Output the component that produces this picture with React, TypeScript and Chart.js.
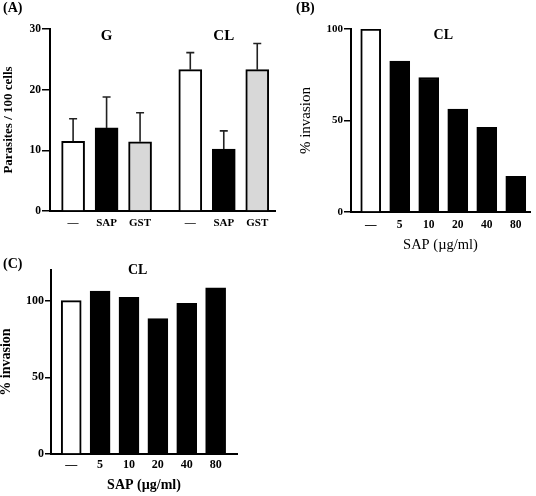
import React, { useEffect, useRef } from 'react';
import { Chart, registerables } from 'chart.js';

Chart.register(...registerables);

const FONT = "'Liberation Serif', 'Times New Roman', Times, serif";

// ---------- Panel A data ----------
const aGroups = ['G', 'CL'];
const aTreatments = ['—', 'SAP', 'GST'];
const aControl = [11.5, 23.3];
const aControlErr = [3.7, 2.8];
const aSap = [13.7, 10.2];
const aSapErr = [5.1, 3.0];
const aGst = [11.4, 23.3];
const aGstErr = [4.8, 4.3];
const aTicks = [0, 10, 20, 30];

// ---------- Panel B data ----------
const bCategories = ['—', '5', '10', '20', '40', '80'];
const bValues = [100, 82.5, 73.5, 56.3, 46.2, 19.5];

// ---------- Panel C data ----------
const cCategories = ['—', '5', '10', '20', '40', '80'];
const cValues = [100, 106.3, 102.2, 88.3, 98.3, 108.3];

const WHITE = '#ffffff';
const BLACK = '#000000';
const GRAY = '#d8d8d8';

const errorBarPlugin = {
  id: 'errorBars',
  afterDatasetsDraw(chart: any, _args: any, opts: any) {
    if (!opts || !opts.errors) return;
    const { ctx } = chart;
    const yScale = chart.scales.y;
    const meta = chart.getDatasetMeta(0);
    const ds = chart.data.datasets[0];
    ctx.save();
    ctx.strokeStyle = '#222';
    ctx.lineWidth = 1.6;
    meta.data.forEach((bar: any, i: number) => {
      const err = opts.errors[i];
      if (!err) return;
      const v = ds.data[i].y;
      const top = yScale.getPixelForValue(v + err);
      ctx.beginPath();
      ctx.moveTo(bar.x, bar.y);
      ctx.lineTo(bar.x, top);
      ctx.moveTo(bar.x - 4, top);
      ctx.lineTo(bar.x + 4, top);
      ctx.stroke();
    });
    ctx.restore();
  },
};

const groupLabelPlugin = {
  id: 'groupLabels',
  afterDraw(chart: any, _args: any, opts: any) {
    if (!opts || !opts.items) return;
    const { ctx, chartArea } = chart;
    const xs = chart.scales.x;
    ctx.save();
    ctx.fillStyle = '#000';
    ctx.font = `bold ${opts.size}px ${FONT}`;
    ctx.textAlign = 'center';
    ctx.textBaseline = 'middle';
    opts.items.forEach((it: any) => {
      ctx.fillText(it.text, xs.getPixelForValue(it.value), chartArea.top + opts.offset);
    });
    ctx.restore();
  },
};

type PanelCfg = {
  points: { x: number; y: number }[];
  colors: string[];
  errors?: number[];
  labels: string[];
  xMin: number;
  xMax: number;
  yMax: number;
  yStep: number;
  barThickness: number;
  padding: { left: number; top: number; right: number; bottom: number };
  yWidth: number;
  xHeight: number;
  xTickPadding: number;
  yTitle: string;
  yTitleBold: boolean;
  yTitleSize: number;
  yTickSize: number;
  xTickSize: number;
  xTitle?: string;
  xTitleBold?: boolean;
  xTitleSize?: number;
  groupItems: { text: string; value: number }[];
  groupSize: number;
  groupOffset: number;
  tickLength: number;
};

function makeChart(canvas: HTMLCanvasElement, p: PanelCfg) {
  const positions = p.points.map((pt) => pt.x);
  return new Chart(canvas, {
    type: 'bar',
    data: {
      datasets: [
        {
          data: p.points as any,
          backgroundColor: p.colors,
          borderColor: BLACK,
          borderWidth: 2,
          barThickness: p.barThickness,
        },
      ],
    },
    plugins: [errorBarPlugin, groupLabelPlugin],
    options: {
      animation: false,
      responsive: false,
      devicePixelRatio: 1,
      layout: { padding: p.padding },
      plugins: {
        legend: { display: false },
        tooltip: { enabled: false },
        errorBars: { errors: p.errors },
        groupLabels: { items: p.groupItems, size: p.groupSize, offset: p.groupOffset },
      } as any,
      scales: {
        x: {
          type: 'linear',
          min: p.xMin,
          max: p.xMax,
          offset: false,
          grid: { display: false, drawTicks: false },
          border: { display: true, color: BLACK, width: 2 },
          afterBuildTicks: (s: any) => {
            s.ticks = positions.map((v) => ({ value: v }));
          },
          afterFit: (s: any) => {
            s.height = p.xHeight;
          },
          ticks: {
            autoSkip: false,
            maxRotation: 0,
            padding: p.xTickPadding,
            color: BLACK,
            font: { family: FONT, size: p.xTickSize, weight: 'bold' },
            callback: (_v: any, i: number) => p.labels[i],
          },
          title: p.xTitle
            ? {
                display: true,
                text: p.xTitle,
                color: BLACK,
                padding: { top: 0, bottom: 2 },
                font: { family: FONT, size: p.xTitleSize, weight: p.xTitleBold ? 'bold' : 'normal' },
              }
            : { display: false },
        } as any,
        y: {
          min: 0,
          max: p.yMax,
          grid: {
            display: true,
            drawOnChartArea: false,
            drawTicks: true,
            tickLength: p.tickLength,
            color: BLACK,
            lineWidth: 1.5,
          },
          border: { display: true, color: BLACK, width: 2 },
          afterFit: (s: any) => {
            s.width = p.yWidth;
          },
          ticks: {
            stepSize: p.yStep,
            includeBounds: false,
            padding: 1,
            color: BLACK,
            font: { family: FONT, size: p.yTickSize, weight: 'bold' },
          },
          title: {
            display: true,
            text: p.yTitle,
            color: BLACK,
            padding: { top: 1, bottom: 0 },
            font: { family: FONT, size: p.yTitleSize, weight: p.yTitleBold ? 'bold' : 'normal' },
          },
        } as any,
      },
    },
  });
}

function buildA(): PanelCfg {
  const valueSets = [aControl, aSap, aGst];
  const errSets = [aControlErr, aSapErr, aGstErr];
  const fills = [WHITE, BLACK, GRAY];
  const points: { x: number; y: number }[] = [];
  const colors: string[] = [];
  const errors: number[] = [];
  const labels: string[] = [];
  const stride = aTreatments.length + 0.5;
  aGroups.forEach((_g, gi) => {
    aTreatments.forEach((t, ti) => {
      points.push({ x: gi * stride + ti, y: valueSets[ti][gi] });
      colors.push(fills[ti]);
      errors.push(errSets[ti][gi]);
      labels.push(t);
    });
  });
  return {
    points,
    colors,
    errors,
    labels,
    xMin: -0.69,
    xMax: 6.03,
    yMax: aTicks[aTicks.length - 1],
    yStep: aTicks[1] - aTicks[0],
    barThickness: 23,
    padding: { left: 0, top: 29, right: 10, bottom: 0 },
    yWidth: 50,
    xHeight: 29,
    xTickPadding: 6,
    yTitle: 'Parasites / 100 cells',
    yTitleBold: true,
    yTitleSize: 13,
    yTickSize: 11.5,
    xTickSize: 11,
    groupItems: aGroups.map((g, gi) => ({ text: g, value: gi * stride + (aTreatments.length - 1) / 2 })),
    groupSize: 15,
    groupOffset: 7,
    tickLength: 8,
  };
}

function buildB(): PanelCfg {
  return {
    points: bCategories.map((_c, i) => ({ x: i, y: bValues[i] })),
    colors: bCategories.map((_c, i) => (i === 0 ? WHITE : BLACK)),
    labels: bCategories,
    xMin: -0.68,
    xMax: 5.49,
    yMax: 100,
    yStep: 50,
    barThickness: 20,
    padding: { left: 26, top: 29, right: 6, bottom: 0 },
    yWidth: 55,
    xHeight: 44,
    xTickPadding: 6,
    yTitle: '% invasion',
    yTitleBold: false,
    yTitleSize: 15,
    yTickSize: 11,
    xTickSize: 11.5,
    xTitle: 'SAP (µg/ml)',
    xTitleBold: false,
    xTitleSize: 14.5,
    groupItems: [{ text: 'CL', value: (bCategories.length - 1) / 2 }],
    groupSize: 14,
    groupOffset: 6,
    tickLength: 7,
  };
}

function buildC(): PanelCfg {
  return {
    points: cCategories.map((_c, i) => ({ x: i, y: cValues[i] })),
    colors: cCategories.map((_c, i) => (i === 0 ? WHITE : BLACK)),
    labels: cCategories,
    xMin: -0.7,
    xMax: 5.74,
    yMax: 120,
    yStep: 50,
    barThickness: 20,
    padding: { left: 0, top: 20, right: 6, bottom: 0 },
    yWidth: 54,
    xHeight: 42,
    xTickPadding: 4,
    yTitle: '% invasion',
    yTitleBold: true,
    yTitleSize: 14,
    yTickSize: 12,
    xTickSize: 12,
    xTitle: 'SAP (µg/ml)',
    xTitleBold: true,
    xTitleSize: 14,
    groupItems: [{ text: 'CL', value: 2.3 }],
    groupSize: 14,
    groupOffset: 0,
    tickLength: 6,
  };
}

function Panel(props: { left: number; top: number; width: number; height: number; build: () => PanelCfg }) {
  const ref = useRef<HTMLCanvasElement | null>(null);
  useEffect(() => {
    if (!ref.current) return;
    const chart = makeChart(ref.current, props.build());
    return () => chart.destroy();
  }, []);
  return (
    <canvas
      ref={ref}
      width={props.width}
      height={props.height}
      style={{
        position: 'absolute',
        left: props.left,
        top: props.top,
        width: props.width,
        height: props.height,
      }}
    />
  );
}

const labelStyle: React.CSSProperties = {
  position: 'absolute',
  fontFamily: FONT,
  fontWeight: 'bold',
  fontSize: 14,
  lineHeight: '14px',
  color: '#000',
};

export default function App() {
  return (
    <div
      style={{
        position: 'absolute',
        left: 0,
        top: 0,
        width: 536,
        height: 496,
        background: '#fff',
        overflow: 'hidden',
      }}
    >
      <Panel left={0} top={0} width={285} height={240} build={buildA} />
      <Panel left={270} top={0} width={266} height={256} build={buildB} />
      <Panel left={-3} top={250} width={246} height={246} build={buildC} />
      <div style={{ ...labelStyle, left: 3, top: 1 }}>(A)</div>
      <div style={{ ...labelStyle, left: 296, top: 1 }}>(B)</div>
      <div style={{ ...labelStyle, left: 3, top: 257 }}>(C)</div>
    </div>
  );
}
